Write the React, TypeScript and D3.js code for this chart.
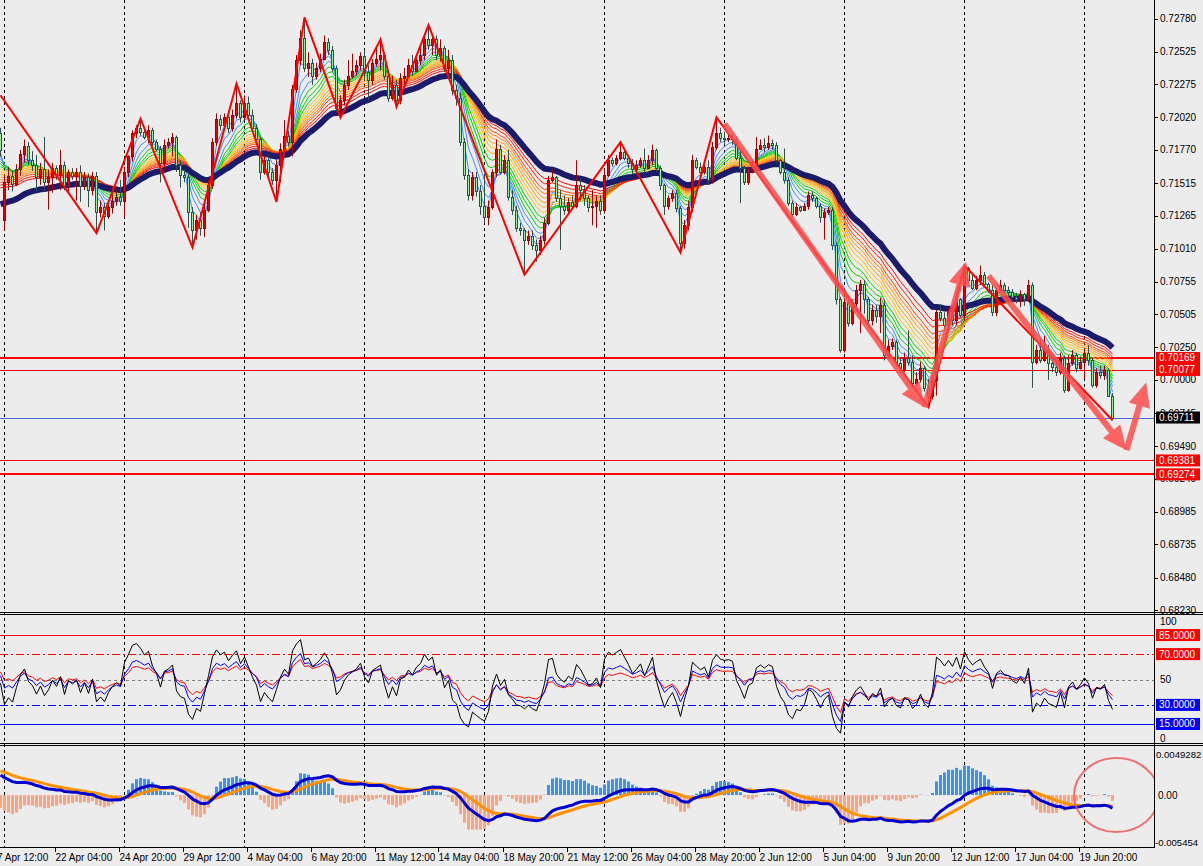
import * as d3 from "d3";

// H4 bars from 17 Apr 20:00 (bar 0) to 23 Jun 04:00 (bar 278)
const opens = [
  0.7190,0.7123,0.7152,0.7157,0.7151,0.7162,0.7174,0.7180,0.7169,0.7165,
  0.7156,0.7162,0.7152,0.7156,0.7163,0.7158,0.7165,0.7149,0.7160,0.7157,
  0.7160,0.7149,0.7156,0.7146,0.7157,0.7129,0.7133,0.7126,0.7133,0.7138,
  0.7141,0.7138,0.7160,0.7172,0.7190,0.7194,0.7191,0.7187,0.7192,0.7183,
  0.7178,0.7167,0.7181,0.7183,0.7187,0.7165,0.7158,0.7156,0.7129,0.7115,
  0.7123,0.7117,0.7131,0.7150,0.7183,0.7201,0.7196,0.7202,0.7194,0.7204,
  0.7213,0.7202,0.7213,0.7204,0.7194,0.7185,0.7160,0.7169,0.7160,0.7154,
  0.7165,0.7178,0.7188,0.7183,0.7224,0.7246,0.7263,0.7240,0.7244,0.7234,
  0.7240,0.7247,0.7260,0.7254,0.7240,0.7209,0.7215,0.7227,0.7234,0.7238,
  0.7242,0.7249,0.7237,0.7231,0.7244,0.7247,0.7250,0.7234,0.7217,0.7227,
  0.7215,0.7232,0.7234,0.7242,0.7238,0.7246,0.7250,0.7262,0.7258,0.7262,
  0.7250,0.7255,0.7240,0.7246,0.7223,0.7217,0.7183,0.7158,0.7142,0.7156,
  0.7145,0.7134,0.7125,0.7133,0.7160,0.7178,0.7160,0.7169,0.7141,0.7131,
  0.7117,0.7115,0.7108,0.7111,0.7104,0.7100,0.7108,0.7121,0.7154,0.7156,
  0.7140,0.7134,0.7131,0.7137,0.7134,0.7150,0.7146,0.7140,0.7133,0.7134,
  0.7138,0.7131,0.7158,0.7169,0.7167,0.7171,0.7175,0.7171,0.7167,0.7162,
  0.7165,0.7169,0.7163,0.7169,0.7177,0.7163,0.7150,0.7134,0.7140,0.7144,
  0.7132,0.7105,0.7119,0.7133,0.7169,0.7164,0.7160,0.7164,0.7154,0.7179,
  0.7190,0.7186,0.7185,0.7186,0.7185,0.7171,0.7163,0.7152,0.7162,0.7164,
  0.7178,0.7181,0.7179,0.7182,0.7181,0.7169,0.7160,0.7154,0.7136,0.7128,
  0.7133,0.7131,0.7134,0.7142,0.7140,0.7134,0.7125,0.7129,0.7131,0.7104,
  0.7062,0.7023,0.7060,0.7044,0.7059,0.7069,0.7074,0.7062,0.7046,0.7054,
  0.7049,0.7058,0.7019,0.7026,0.7029,0.7013,0.7008,0.7017,0.7014,0.6998,
  0.7001,0.7009,0.6994,0.6988,0.7000,0.7052,0.7048,0.7042,0.7052,0.7046,
  0.7062,0.7050,0.7086,0.7077,0.7071,0.7077,0.7081,0.7074,0.7069,0.7052,
  0.7069,0.7073,0.7069,0.7068,0.7064,0.7062,0.7066,0.7062,0.7073,0.7014,
  0.7023,0.7015,0.7023,0.7013,0.7010,0.7006,0.7017,0.6992,0.7013,0.7019,
  0.7009,0.7014,0.7021,0.7015,0.6996,0.7006,0.7004,0.7008,0.6988,
];

const highs = [
  0.7194,0.7157,0.7164,0.7161,0.7166,0.7177,0.7185,0.7183,0.7176,0.7173,
  0.7167,0.7187,0.7162,0.7167,0.7165,0.7177,0.7168,0.7162,0.7163,0.7163,
  0.7165,0.7160,0.7159,0.7160,0.7160,0.7138,0.7136,0.7135,0.7149,0.7146,
  0.7154,0.7164,0.7173,0.7192,0.7196,0.7201,0.7194,0.7196,0.7194,0.7185,
  0.7180,0.7185,0.7186,0.7190,0.7188,0.7169,0.7162,0.7160,0.7133,0.7127,
  0.7129,0.7138,0.7154,0.7186,0.7205,0.7204,0.7205,0.7205,0.7208,0.7228,
  0.7215,0.7219,0.7218,0.7208,0.7197,0.7187,0.7173,0.7173,0.7163,0.7169,
  0.7182,0.7200,0.7192,0.7227,0.7250,0.7269,0.7279,0.7252,0.7247,0.7244,
  0.7251,0.7265,0.7263,0.7257,0.7242,0.7219,0.7231,0.7246,0.7251,0.7246,
  0.7252,0.7254,0.7242,0.7247,0.7257,0.7262,0.7252,0.7238,0.7234,0.7231,
  0.7236,0.7240,0.7247,0.7250,0.7250,0.7257,0.7265,0.7273,0.7265,0.7265,
  0.7262,0.7257,0.7254,0.7250,0.7227,0.7221,0.7186,0.7162,0.7160,0.7160,
  0.7150,0.7158,0.7138,0.7162,0.7185,0.7181,0.7173,0.7177,0.7146,0.7134,
  0.7121,0.7117,0.7115,0.7115,0.7108,0.7111,0.7125,0.7157,0.7162,0.7157,
  0.7146,0.7142,0.7140,0.7142,0.7169,0.7155,0.7150,0.7142,0.7146,0.7142,
  0.7142,0.7162,0.7173,0.7171,0.7173,0.7183,0.7178,0.7173,0.7170,0.7169,
  0.7171,0.7178,0.7173,0.7181,0.7178,0.7165,0.7151,0.7142,0.7146,0.7146,
  0.7134,0.7123,0.7138,0.7173,0.7171,0.7167,0.7169,0.7169,0.7183,0.7202,
  0.7194,0.7191,0.7190,0.7190,0.7187,0.7177,0.7165,0.7163,0.7169,0.7187,
  0.7185,0.7186,0.7188,0.7185,0.7183,0.7170,0.7178,0.7156,0.7138,0.7136,
  0.7134,0.7136,0.7145,0.7145,0.7141,0.7136,0.7132,0.7133,0.7133,0.7106,
  0.7064,0.7063,0.7062,0.7062,0.7073,0.7077,0.7077,0.7064,0.7058,0.7058,
  0.7063,0.7062,0.7031,0.7032,0.7031,0.7017,0.7021,0.7038,0.7019,0.7006,
  0.7014,0.7011,0.7001,0.7004,0.7054,0.7058,0.7052,0.7055,0.7058,0.7065,
  0.7063,0.7088,0.7087,0.7081,0.7080,0.7088,0.7083,0.7075,0.7073,0.7071,
  0.7077,0.7075,0.7072,0.7070,0.7067,0.7069,0.7067,0.7077,0.7075,0.7027,
  0.7032,0.7034,0.7027,0.7019,0.7015,0.7021,0.7019,0.7019,0.7023,0.7021,
  0.7018,0.7024,0.7027,0.7017,0.7009,0.7011,0.7011,0.7009,0.6990,
];

const lows = [
  0.7172,0.7115,0.7146,0.7145,0.7149,0.7157,0.7167,0.7165,0.7161,0.7145,
  0.7150,0.7145,0.7131,0.7144,0.7154,0.7146,0.7146,0.7145,0.7154,0.7138,
  0.7137,0.7146,0.7133,0.7142,0.7113,0.7125,0.7115,0.7124,0.7128,0.7134,
  0.7134,0.7125,0.7156,0.7168,0.7186,0.7188,0.7185,0.7182,0.7180,0.7176,
  0.7152,0.7160,0.7178,0.7172,0.7160,0.7148,0.7152,0.7117,0.7102,0.7108,
  0.7111,0.7110,0.7129,0.7147,0.7180,0.7192,0.7194,0.7190,0.7191,0.7201,
  0.7198,0.7200,0.7201,0.7191,0.7181,0.7154,0.7158,0.7156,0.7150,0.7137,
  0.7152,0.7177,0.7180,0.7172,0.7221,0.7242,0.7237,0.7233,0.7227,0.7231,
  0.7237,0.7246,0.7250,0.7237,0.7206,0.7202,0.7211,0.7223,0.7232,0.7234,
  0.7238,0.7232,0.7215,0.7227,0.7241,0.7238,0.7231,0.7214,0.7215,0.7210,
  0.7212,0.7227,0.7232,0.7234,0.7237,0.7242,0.7246,0.7254,0.7250,0.7246,
  0.7245,0.7237,0.7234,0.7219,0.7211,0.7180,0.7154,0.7138,0.7138,0.7141,
  0.7127,0.7121,0.7119,0.7131,0.7156,0.7158,0.7158,0.7138,0.7127,0.7114,
  0.7111,0.7081,0.7104,0.7100,0.7091,0.7096,0.7104,0.7119,0.7152,0.7137,
  0.7100,0.7127,0.7127,0.7131,0.7132,0.7138,0.7134,0.7129,0.7119,0.7117,
  0.7127,0.7128,0.7156,0.7164,0.7165,0.7169,0.7169,0.7163,0.7158,0.7160,
  0.7163,0.7159,0.7162,0.7165,0.7160,0.7146,0.7127,0.7131,0.7137,0.7129,
  0.7098,0.7101,0.7115,0.7129,0.7162,0.7156,0.7158,0.7150,0.7151,0.7177,
  0.7183,0.7181,0.7183,0.7181,0.7169,0.7136,0.7150,0.7150,0.7159,0.7162,
  0.7177,0.7175,0.7177,0.7177,0.7167,0.7158,0.7151,0.7134,0.7125,0.7126,
  0.7129,0.7130,0.7131,0.7137,0.7132,0.7121,0.7108,0.7127,0.7100,0.7058,
  0.7021,0.7021,0.7041,0.7042,0.7054,0.7036,0.7051,0.7042,0.7042,0.7044,
  0.7036,0.7015,0.7017,0.7023,0.7011,0.7005,0.7006,0.7011,0.6994,0.6995,
  0.6998,0.6991,0.6979,0.6985,0.6988,0.7045,0.7038,0.7040,0.7042,0.7042,
  0.7048,0.7046,0.7074,0.7069,0.7069,0.7073,0.7071,0.7067,0.7049,0.7049,
  0.7068,0.7066,0.7065,0.7062,0.7059,0.7056,0.7057,0.7060,0.6994,0.7012,
  0.7013,0.7014,0.7000,0.7006,0.7003,0.7004,0.6990,0.6991,0.7011,0.7006,
  0.7008,0.7001,0.7011,0.6994,0.6994,0.7001,0.7000,0.6987,0.6969,
];

const closes = [
  0.7177,0.7152,0.7157,0.7151,0.7162,0.7174,0.7180,0.7169,0.7165,0.7156,
  0.7162,0.7152,0.7156,0.7163,0.7158,0.7165,0.7149,0.7160,0.7157,0.7160,
  0.7149,0.7156,0.7146,0.7157,0.7129,0.7133,0.7126,0.7133,0.7138,0.7141,
  0.7138,0.7160,0.7172,0.7190,0.7194,0.7191,0.7187,0.7192,0.7183,0.7178,
  0.7167,0.7181,0.7183,0.7187,0.7165,0.7158,0.7156,0.7129,0.7115,0.7123,
  0.7117,0.7131,0.7150,0.7183,0.7201,0.7196,0.7202,0.7194,0.7204,0.7213,
  0.7202,0.7213,0.7204,0.7194,0.7185,0.7160,0.7169,0.7160,0.7154,0.7165,
  0.7178,0.7188,0.7183,0.7224,0.7246,0.7263,0.7240,0.7244,0.7234,0.7240,
  0.7247,0.7260,0.7254,0.7240,0.7209,0.7215,0.7227,0.7234,0.7238,0.7242,
  0.7249,0.7237,0.7231,0.7244,0.7247,0.7250,0.7234,0.7217,0.7227,0.7215,
  0.7232,0.7234,0.7242,0.7238,0.7246,0.7250,0.7262,0.7258,0.7262,0.7250,
  0.7255,0.7240,0.7246,0.7223,0.7217,0.7183,0.7158,0.7142,0.7156,0.7145,
  0.7134,0.7125,0.7133,0.7160,0.7178,0.7160,0.7169,0.7141,0.7131,0.7117,
  0.7115,0.7108,0.7111,0.7104,0.7100,0.7108,0.7121,0.7154,0.7156,0.7140,
  0.7134,0.7131,0.7137,0.7134,0.7150,0.7146,0.7140,0.7133,0.7134,0.7138,
  0.7131,0.7158,0.7169,0.7167,0.7171,0.7175,0.7171,0.7167,0.7162,0.7165,
  0.7169,0.7163,0.7169,0.7177,0.7163,0.7150,0.7134,0.7140,0.7144,0.7132,
  0.7105,0.7119,0.7133,0.7169,0.7164,0.7160,0.7164,0.7154,0.7179,0.7190,
  0.7186,0.7185,0.7186,0.7185,0.7171,0.7163,0.7152,0.7162,0.7164,0.7178,
  0.7181,0.7179,0.7182,0.7181,0.7169,0.7160,0.7154,0.7136,0.7128,0.7133,
  0.7131,0.7134,0.7142,0.7140,0.7134,0.7125,0.7129,0.7131,0.7104,0.7062,
  0.7023,0.7060,0.7044,0.7059,0.7069,0.7074,0.7062,0.7046,0.7054,0.7049,
  0.7058,0.7019,0.7026,0.7029,0.7013,0.7008,0.7017,0.7014,0.6998,0.7001,
  0.7009,0.6994,0.6988,0.7000,0.7052,0.7048,0.7042,0.7052,0.7046,0.7062,
  0.7050,0.7086,0.7077,0.7071,0.7077,0.7081,0.7074,0.7069,0.7052,0.7069,
  0.7073,0.7069,0.7068,0.7064,0.7062,0.7066,0.7062,0.7073,0.7014,0.7023,
  0.7015,0.7023,0.7013,0.7010,0.7006,0.7017,0.6992,0.7013,0.7019,0.7009,
  0.7014,0.7021,0.7015,0.6996,0.7006,0.7004,0.7008,0.6988,0.69711,
];

// time axis: one label every 16 bars, first one two bars before bar 0
const timeLabels = [
  "17 Apr 12:00", "22 Apr 04:00", "24 Apr 20:00", "29 Apr 12:00", "4 May 04:00",
  "6 May 20:00", "11 May 12:00", "14 May 04:00", "18 May 20:00", "21 May 12:00",
  "26 May 04:00", "28 May 20:00", "2 Jun 12:00", "5 Jun 04:00", "9 Jun 20:00",
  "12 Jun 12:00", "17 Jun 04:00", "19 Jun 20:00",
];
const timeLabelBars = [-2, 14, 30, 46, 62, 78, 94, 110, 126, 142, 158, 174, 190, 206, 222, 238, 254, 270];
const weekStartBars = [1, 31, 61, 91, 121, 151, 181, 211, 241, 271];

const priceTicks = [
  0.7278, 0.72525, 0.72275, 0.7202, 0.7177, 0.71515, 0.71265, 0.7101, 0.70755, 0.70505,
  0.7025, 0.7, 0.69745, 0.6949, 0.6924, 0.68985, 0.68735, 0.6848, 0.6823,
];

// zigzag pivots
const zigzagBars = [0, 24, 35, 48, 59, 69, 76, 85, 95, 99, 107, 131, 155, 170, 179, 232, 241, 278];
const zigzagPrices = [
  0.7219, 0.7113, 0.7201, 0.7102, 0.7228, 0.7137, 0.7279, 0.7202, 0.7262, 0.7210,
  0.7273, 0.7081, 0.7183, 0.7098, 0.7202, 0.6979, 0.7088, 0.6969,
];

// moving average ribbon
const ribbonPeriods = [3, 5, 7, 9, 11, 13, 15, 17, 19, 21, 23, 25, 28, 31];
const ribbonColors = [
  "#3d8ff5", "#3d8ff5", "#3d8ff5", "#00d000", "#00d000", "#00d000", "#ffbf00",
  "#ffbf00", "#ff9c00", "#ff9c00", "#ff7a00", "#ff4000", "#ff1a00", "#ff0000",
];
const ribbonStart = [
  0.7172, 0.7170, 0.7168, 0.7166, 0.7164, 0.7162, 0.7160, 0.7158, 0.7156, 0.7154,
  0.7152, 0.7150, 0.7148, 0.7146,
];
const slowPeriod = 38;
const slowStart = 0.7133;

// horizontal levels on the price chart
const levelPrices = [0.70169, 0.70077, 0.69711, 0.69381, 0.69274];
const levelColors = ["#ff0000", "#ff0000", "#4a68d8", "#ff0000", "#ff0000"];
const levelWidths = [2, 1, 1, 1, 2];
const levelBoxColors = ["#ff0000", "#ff0000", "#000000", "#ff0000", "#ff0000"];

// hand-drawn arrows (bar, price)
const arrowFromBar = [181, 231, 247, 281.5];
const arrowFromPrice = [0.7197, 0.6979, 0.7080, 0.6946];
const arrowToBar = [231, 241.4, 281.5, 286.4];
const arrowToPrice = [0.6979, 0.7091, 0.6946, 0.6998];

// RSI panel
const rsiPeriods = [7, 14, 21];
const rsiColors = ["#000000", "#0000ff", "#ff0000"];
const rsiStart = [47, 53, 56];
const rsiLevels = [85, 70, 50, 30, 15];
const rsiLevelColors = ["#ff0000", "#ff0000", "#808080", "#0000ff", "#0000ff"];
const rsiLevelDash = ["", "8,3,2,3", "3,3", "8,3,2,3", ""];

// MACD panel
const macdFast = 12, macdSlow = 26, macdSignal = 9;
const macdFastStart = 0.7165, macdSlowStart = 0.7143, signalStart = 0.0027;
const histScale = 3;

const FONT = "'Liberation Sans', Arial, sans-serif";
const PLOT_W = 1154;

function ema(src: number[], period: number, seed: number) {
  const a = 2 / (period + 1);
  let v = seed;
  return src.map((x) => (v = v + a * (x - v)));
}

function rsi(src: number[], period: number, start: number) {
  let al = 0.0004;
  let ag = (al * start) / (100 - start);
  return src.map((c, i) => {
    if (i > 0) {
      const ch = c - src[i - 1];
      ag = (ag * (period - 1) + Math.max(ch, 0)) / period;
      al = (al * (period - 1) + Math.max(-ch, 0)) / period;
    }
    return 100 - 100 / (1 + ag / al);
  });
}

const x = d3.scaleLinear().domain([0, 278]).range([0.5, 1112.5]);
const yP = d3.scaleLinear().domain([0.68215, 0.72923]).range([612, 0]);
const yR = d3.scaleLinear().domain([0, 100]).range([743, 616]);
const yM = d3.scaleLinear().domain([-0.005454, 0.0049282]).range([846, 749]);

const ribbons = ribbonPeriods.map((p, k) => ema(closes, p, ribbonStart[k]));
const slowMa = ema(closes, slowPeriod, slowStart);
const rsis = rsiPeriods.map((p, k) => rsi(closes, p, rsiStart[k]));
const fastE = ema(closes, macdFast, macdFastStart);
const slowE = ema(closes, macdSlow, macdSlowStart);
const macd = fastE.map((v, i) => v - slowE[i]);
const signal = ema(macd, macdSignal, signalStart);
const hist = macd.map((v, i) => (v - signal[i]) * histScale);

const priceLine = d3.line<number>().x((_, i) => x(i)).y((v) => yP(v));
const rsiLine = d3.line<number>().x((_, i) => x(i)).y((v) => yR(v));
const macdLine = d3.line<number>().x((_, i) => x(i)).y((v) => yM(v));
const zigzag = d3
  .line<number>()
  .x((b) => x(b))
  .y((_, k) => yP(zigzagPrices[k]));

function Arrow({ x1, y1, x2, y2 }: { x1: number; y1: number; x2: number; y2: number }) {
  const dx = x2 - x1, dy = y2 - y1;
  const len = Math.hypot(dx, dy);
  const ux = dx / len, uy = dy / len;
  const head = 24, half = 11;
  const bx = x2 - ux * head, by = y2 - uy * head;
  const pts = [
    [x2, y2],
    [bx - uy * half, by + ux * half],
    [bx + uy * half, by - ux * half],
  ];
  return (
    <g opacity={0.85}>
      <line x1={x1} y1={y1} x2={bx + ux * 2} y2={by + uy * 2} stroke="#ff4d4d" strokeWidth={6} />
      <polygon points={pts.map((p) => p.join(",")).join(" ")} fill="#ff4d4d" />
    </g>
  );
}

function AxisBox({ y, text, fill }: { y: number; text: string; fill: string }) {
  return (
    <g>
      <rect x={1156} y={y - 6} width={44} height={12} fill={fill} />
      <text x={1159} y={y} dy="0.35em" fill="#fff" fontSize={10} fontFamily={FONT}>
        {text}
      </text>
    </g>
  );
}

export default function App() {
  const bg = "#ececec";
  return (
    <>
      <style>{"body{margin:0;background:#ececec}"}</style>
      <svg width={1203} height={866} style={{ display: "block", background: bg }}>
        <defs>
          <clipPath id="cMain">
            <rect x={0} y={0} width={PLOT_W} height={612} />
          </clipPath>
          <clipPath id="cRsi">
            <rect x={0} y={615} width={PLOT_W} height={128} />
          </clipPath>
          <clipPath id="cMacd">
            <rect x={0} y={746} width={PLOT_W} height={101} />
          </clipPath>
        </defs>

        {/* weekly grid */}
        {weekStartBars.map((b) => (
          <line
            key={b}
            x1={Math.floor(x(b)) + 0.5}
            x2={Math.floor(x(b)) + 0.5}
            y1={0}
            y2={848}
            stroke="#000"
            strokeDasharray="3,3"
          />
        ))}

        {/* price panel */}
        <g clipPath="url(#cMain)">
          {levelPrices.map((p, k) => (
            <line
              key={p}
              x1={0}
              x2={PLOT_W}
              y1={Math.round(yP(p)) + (levelWidths[k] === 1 ? 0.5 : 0)}
              y2={Math.round(yP(p)) + (levelWidths[k] === 1 ? 0.5 : 0)}
              stroke={levelColors[k]}
              strokeWidth={levelWidths[k]}
            />
          ))}
          {ribbons.map((r, k) => (
            <path key={k} d={priceLine(r) || ""} fill="none" stroke={ribbonColors[k]} strokeWidth={1} />
          ))}
          <path d={priceLine(slowMa) || ""} fill="none" stroke="#1b1b6b" strokeWidth={6} />
          {closes.map((c, i) => {
            const o = opens[i];
            const up = c >= o;
            const cx = x(i);
            const top = Math.round(yP(Math.max(o, c)));
            const bot = Math.round(yP(Math.min(o, c)));
            const edge = up ? "#a00000" : "#2f4f4f";
            return (
              <g key={i}>
                <line x1={cx} x2={cx} y1={yP(highs[i])} y2={yP(lows[i])} stroke={edge} strokeWidth={1} />
                <rect
                  x={cx - 1}
                  y={top + 0.5}
                  width={2}
                  height={Math.max(bot - top, 0.01)}
                  fill={up ? "#ee0000" : "#98f098"}
                  stroke={edge}
                  strokeWidth={1}
                />
              </g>
            );
          })}
          <path d={zigzag(zigzagBars) || ""} fill="none" stroke="#ff0000" strokeWidth={2} />
          {arrowFromBar.map((b, k) => (
            <Arrow
              key={k}
              x1={x(b)}
              y1={yP(arrowFromPrice[k])}
              x2={x(arrowToBar[k])}
              y2={yP(arrowToPrice[k])}
            />
          ))}
        </g>

        {/* RSI panel */}
        <g clipPath="url(#cRsi)">
          {rsiLevels.map((lv, k) => (
            <line
              key={lv}
              x1={0}
              x2={PLOT_W}
              y1={Math.round(yR(lv)) + 0.5}
              y2={Math.round(yR(lv)) + 0.5}
              stroke={rsiLevelColors[k]}
              strokeDasharray={rsiLevelDash[k] || undefined}
            />
          ))}
          {rsis
            .map((r, k) => (
              <path key={k} d={rsiLine(r) || ""} fill="none" stroke={rsiColors[k]} strokeWidth={1} />
            ))
            .reverse()}
        </g>

        {/* MACD panel */}
        <g clipPath="url(#cMacd)">
          {hist.map((h, i) => (
            <rect
              key={i}
              x={x(i) - 1.5}
              y={Math.min(yM(h), yM(0))}
              width={3}
              height={Math.abs(yM(h) - yM(0))}
              fill={h >= 0 ? "#3a93f2" : "#ffa27e"}
            />
          ))}
          <path d={macdLine(signal) || ""} fill="none" stroke="#ff9100" strokeWidth={3} />
          <path d={macdLine(macd) || ""} fill="none" stroke="#0000d0" strokeWidth={3} />
          <ellipse
            cx={x(279)}
            cy={yM(0)}
            rx={x(289.6) - x(279)}
            ry={yM(-0.00396) - yM(0)}
            fill="none"
            stroke="#f05a5a"
            strokeWidth={2}
            opacity={0.85}
          />
        </g>

        {/* frames */}
        <line x1={0} x2={1203} y1={612.5} y2={612.5} stroke="#000" />
        <line x1={0} x2={1203} y1={614.5} y2={614.5} stroke="#000" />
        <line x1={0} x2={1203} y1={743.5} y2={743.5} stroke="#000" />
        <line x1={0} x2={1203} y1={745.5} y2={745.5} stroke="#000" />
        <line x1={0} x2={1154.5} y1={847.5} y2={847.5} stroke="#000" />
        <line x1={1154.5} x2={1154.5} y1={0} y2={848} stroke="#000" />

        {/* price axis */}
        {priceTicks.map((p) => (
          <g key={p}>
            <line x1={1155} x2={1158} y1={Math.round(yP(p)) + 0.5} y2={Math.round(yP(p)) + 0.5} stroke="#000" />
            <text x={1160} y={yP(p)} dy="0.35em" fontSize={10} fontFamily={FONT} fill="#000">
              {p.toFixed(5)}
            </text>
          </g>
        ))}
        {levelPrices.map((p, k) => (
          <AxisBox key={p} y={yP(p)} text={p.toFixed(5)} fill={levelBoxColors[k]} />
        ))}

        {/* RSI axis */}
        <text x={1160} y={yR(100) + 5} dy="0.35em" fontSize={10} fontFamily={FONT}>100</text>
        <text x={1160} y={yR(50)} dy="0.35em" fontSize={10} fontFamily={FONT}>50</text>
        <text x={1160} y={yR(0) - 5} dy="0.35em" fontSize={10} fontFamily={FONT}>0</text>
        {rsiLevels.map((lv, k) =>
          lv === 50 ? null : (
            <AxisBox key={lv} y={yR(lv)} text={lv.toFixed(4)} fill={rsiLevelColors[k]} />
          )
        )}

        {/* MACD axis */}
        <text x={1156} y={yM(0.0049282) + 6} dy="0.35em" fontSize={9.6} fontFamily={FONT}>0.0049282</text>
        <text x={1158} y={yM(0)} dy="0.35em" fontSize={10} fontFamily={FONT}>0.00</text>
        <text x={1155} y={yM(-0.005454) - 3} dy="0.35em" fontSize={9.6} fontFamily={FONT}>-0.005454</text>

        {/* time axis */}
        {timeLabels.map((t, k) => {
          const tx = Math.round(x(timeLabelBars[k]) - 2) + 0.5;
          return (
            <g key={t}>
              <line x1={tx} x2={tx} y1={848} y2={852} stroke="#000" />
              <text x={tx} y={861} fontSize={10} fontFamily={FONT} fill="#000">
                {t}
              </text>
            </g>
          );
        })}
      </svg>
    </>
  );
}
